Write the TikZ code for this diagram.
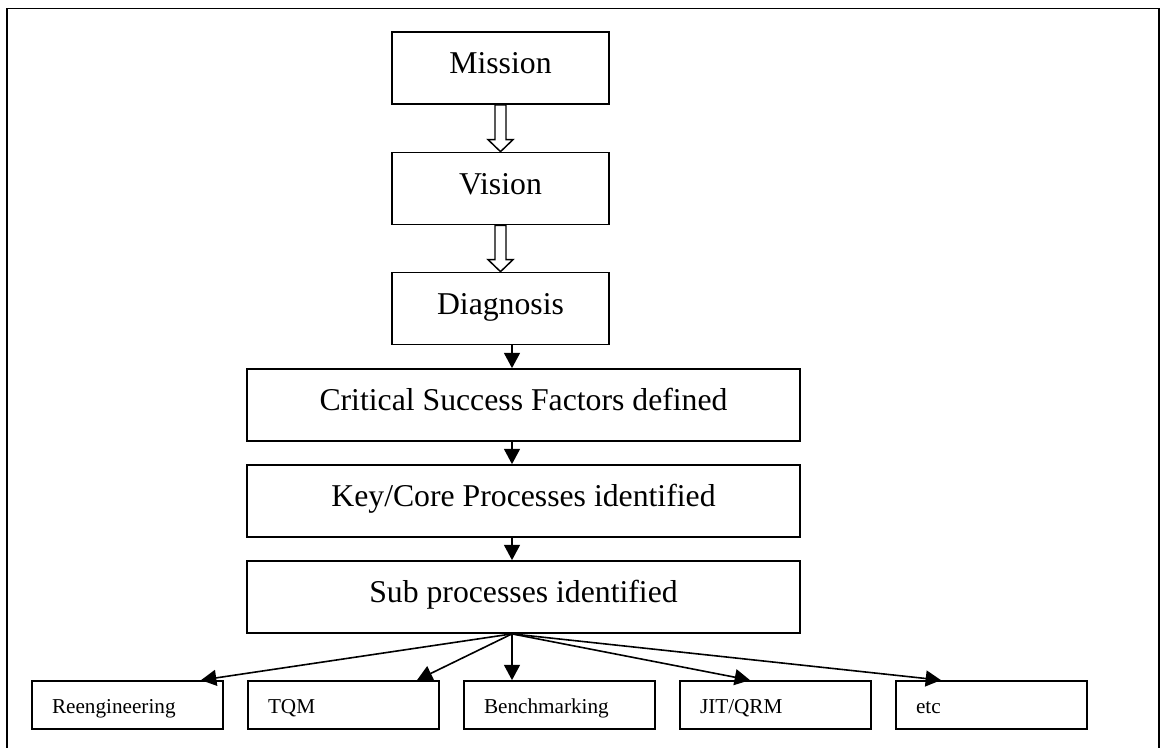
\documentclass[tikz,border=0pt]{standalone}
\usepackage{fontspec}
\setmainfont{Liberation Serif}
\usetikzlibrary{arrows.meta,calc}

\begin{document}
\begin{tikzpicture}[x=0.75pt,y=-0.75pt, line width=1.3pt,
    bigbox/.style={draw, rectangle, inner sep=0pt, minimum height=54pt,
      font=\fontsize{23.8}{28}\selectfont, text height=16pt, text depth=7.6pt},
    smallbox/.style={bigbox, minimum width=162.75pt},
    widebox/.style={bigbox, minimum width=414.75pt},
    methodbox/.style={draw, rectangle, inner xsep=15pt, inner ysep=0pt,
      minimum height=36pt, text width=113.25pt, align=left,
      font=\fontsize{15.9}{19}\selectfont, text height=12.6pt, text depth=0pt},
    link/.style={-{Triangle[length=11.5pt,width=12pt]}, line width=1.2pt},
    hollow/.style={draw, fill=white, line width=1.1pt, line join=miter}]

    \useasboundingbox (0,0) rectangle (1162,747);
    % outer frame, open at the bottom
    \draw (7,760) -- (7,8.5) -- (1159,8.5) -- (1159,760);

    % main column
    \node[smallbox] (mission) at (500.5,68) {Mission};
    \node[smallbox] (vision) at (500.5,188.5) {Vision};
    \node[smallbox] (diagnosis) at (500.5,308.5) {Diagnosis};
    \node[widebox] (csf) at (523.5,405) {Critical Success Factors defined};
    \node[widebox] (core) at (523.5,501) {Key/Core Processes identified};
    \node[widebox] (sub) at (523.5,597) {Sub processes identified};

    % methods
    \node[methodbox] (reeng) at (127.5,705) {Reengineering};
    \node[methodbox] (tqm) at (343.5,705) {TQM};
    \node[methodbox] (bench) at (559.5,705) {Benchmarking};
    \node[methodbox] (jit) at (775.5,705) {JIT/QRM};
    \node[methodbox] (etc) at (991.5,705) {etc};

    % block arrows
    \draw[hollow] ($(mission.south)+(-5.5,0)$) -- ($(vision.north)+(-5.5,-12)$)
      -- ($(vision.north)+(-12.5,-12)$) -- (vision.north) -- ($(vision.north)+(12.5,-12)$)
      -- ($(vision.north)+(5.5,-12)$) -- ($(mission.south)+(5.5,0)$) -- cycle;
    \draw[hollow] ($(vision.south)+(-5.5,0)$) -- ($(diagnosis.north)+(-5.5,-12)$)
      -- ($(diagnosis.north)+(-12.5,-12)$) -- (diagnosis.north) -- ($(diagnosis.north)+(12.5,-12)$)
      -- ($(diagnosis.north)+(5.5,-12)$) -- ($(vision.south)+(5.5,0)$) -- cycle;

    % plain arrows
    \coordinate (spine) at (512,0);
    \draw[link] (diagnosis.south -| spine) -- (csf.north -| spine);
    \draw[link] (csf.south -| spine) -- (core.north -| spine);
    \draw[link] (core.south -| spine) -- (sub.north -| spine);

    \draw[link] (sub.south -| spine) -- ($(reeng.north)+(73.5,0)$);
    \draw[link] (sub.south -| spine) -- ($(tqm.north)+(73.5,0)$);
    \draw[link] (sub.south -| spine) -- (bench.north -| spine);
    \draw[link] (sub.south -| spine) -- ($(jit.north)+(-25.5,0)$);
    \draw[link] (sub.south -| spine) -- ($(etc.north)+(-50.5,0)$);

\end{tikzpicture}
\end{document}
